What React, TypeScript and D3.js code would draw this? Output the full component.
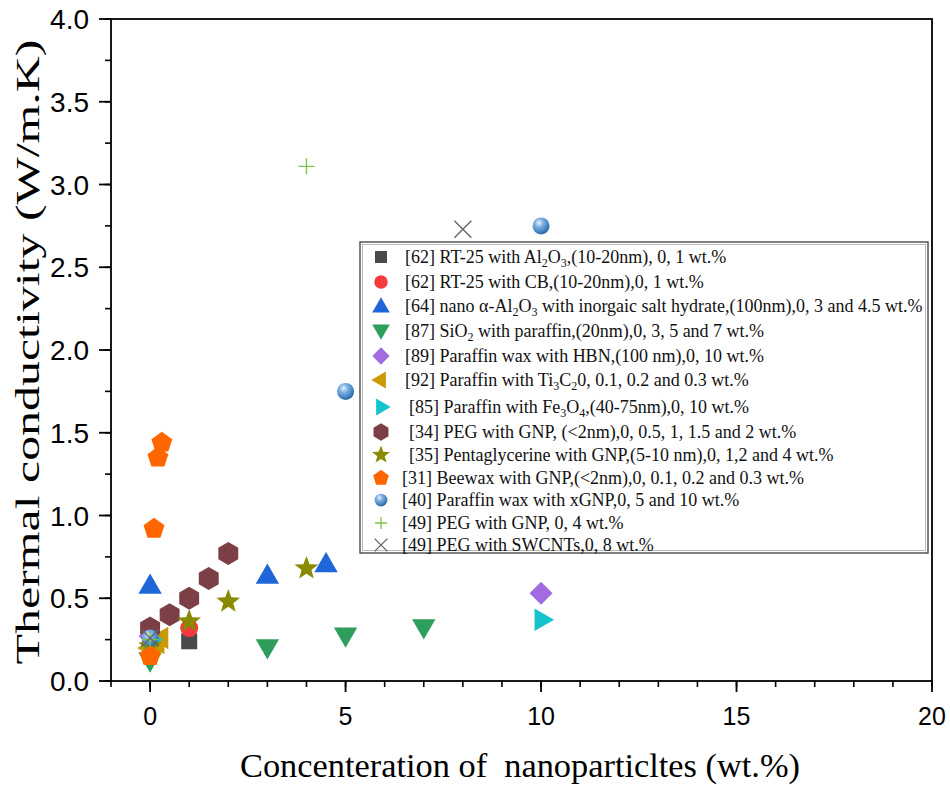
import React from "react";
import * as d3 from "d3";

// ---------- data ----------
const s1x = [0, 1];
const s1y = [0.21, 0.24];
const s2x = [0, 1];
const s2y = [0.22, 0.32];
const s3x = [0, 3, 4.5];
const s3y = [0.58, 0.64, 0.71];
const s4x = [0, 3, 5, 7];
const s4y = [0.12, 0.2, 0.27, 0.32];
const s5x = [0, 10];
const s5y = [0.27, 0.53];
const s6x = [0, 0.1, 0.2, 0.3];
const s6y = [0.2, 0.22, 0.23, 0.26];
const s7x = [0, 10];
const s7y = [0.25, 0.37];
const s8x = [0, 0.5, 1, 1.5, 2];
const s8y = [0.32, 0.4, 0.5, 0.62, 0.77];
const s9x = [0, 1, 2, 4];
const s9y = [0.21, 0.36, 0.48, 0.68];
const s10x = [0, 0.1, 0.2, 0.3];
const s10y = [0.15, 0.92, 1.35, 1.44];
const s11x = [0, 5, 10];
const s11y = [0.26, 1.75, 2.75];
const s12x = [0, 4];
const s12y = [0.25, 3.11];
const s13x = [0, 8];
const s13y = [0.26, 2.73];

const xTicks = [0, 5, 10, 15, 20];
const yTicks = [0, 0.5, 1, 1.5, 2, 2.5, 3, 3.5, 4];

type Part = { t: string; sub?: boolean };
const labels: Part[][] = [
  [{ t: "[62] RT-25 with Al" }, { t: "2", sub: true }, { t: "O" }, { t: "3", sub: true }, { t: ",(10-20nm), 0, 1 wt.%" }],
  [{ t: "[62] RT-25 with CB,(10-20nm),0, 1 wt.%" }],
  [{ t: "[64] nano \u03B1-Al" }, { t: "2", sub: true }, { t: "O" }, { t: "3", sub: true }, { t: " with inorgaic salt hydrate,(100nm),0, 3 and 4.5 wt.%" }],
  [{ t: "[87] SiO" }, { t: "2", sub: true }, { t: " with paraffin,(20nm),0, 3, 5 and 7 wt.%" }],
  [{ t: "[89] Paraffin wax with HBN,(100 nm),0, 10 wt.%" }],
  [{ t: "[92] Paraffin with Ti" }, { t: "3", sub: true }, { t: "C" }, { t: "2", sub: true }, { t: "0, 0.1, 0.2 and 0.3 wt.%" }],
  [{ t: "[85] Paraffin with Fe" }, { t: "3", sub: true }, { t: "O" }, { t: "4", sub: true }, { t: ",(40-75nm),0, 10 wt.%" }],
  [{ t: "[34] PEG with GNP, (<2nm),0, 0.5, 1, 1.5 and 2 wt.%" }],
  [{ t: "[35] Pentaglycerine with GNP,(5-10 nm),0, 1,2 and 4 wt.%" }],
  [{ t: "[31] Beewax with GNP,(<2nm),0, 0.1, 0.2 and 0.3 wt.%" }],
  [{ t: "[40] Paraffin wax with xGNP,0, 5 and 10 wt.%" }],
  [{ t: "[49] PEG with GNP, 0, 4 wt.%" }],
  [{ t: "[49] PEG with SWCNTs,0, 8 wt.%" }],
];

type Mk = "square" | "circle" | "tri" | "tridown" | "diamond" | "trileft" | "triright" | "hex" | "star" | "pent" | "sphere" | "plus" | "x";

const series = [
  { xs: s1x, ys: s1y, mk: "square" as Mk, color: "#4a4a4a" },
  { xs: s2x, ys: s2y, mk: "circle" as Mk, color: "#f23a3f" },
  { xs: s3x, ys: s3y, mk: "tri" as Mk, color: "#1f66d8" },
  { xs: s4x, ys: s4y, mk: "tridown" as Mk, color: "#2e9e5c" },
  { xs: s5x, ys: s5y, mk: "diamond" as Mk, color: "#a46be0" },
  { xs: s6x, ys: s6y, mk: "trileft" as Mk, color: "#c99a06" },
  { xs: s7x, ys: s7y, mk: "triright" as Mk, color: "#14c3cb" },
  { xs: s8x, ys: s8y, mk: "hex" as Mk, color: "#7b3f45" },
  { xs: s9x, ys: s9y, mk: "star" as Mk, color: "#8a8a00" },
  { xs: s10x, ys: s10y, mk: "pent" as Mk, color: "#ff6600" },
  { xs: s11x, ys: s11y, mk: "sphere" as Mk, color: "#5b9bd5" },
  { xs: s12x, ys: s12y, mk: "plus" as Mk, color: "#7cc443" },
  { xs: s13x, ys: s13y, mk: "x" as Mk, color: "#666666" },
];

// ---------- layout ----------
const W = 950, H = 785;
const L = 111, R = 932, T = 19, B = 681;
const x = d3.scaleLinear().domain([-1, 20]).range([L, R]);
const y = d3.scaleLinear().domain([0, 4]).range([B, T]);

function poly(n: number, r: number, rot: number) {
  const pts = d3.range(n).map((i) => {
    const a = rot + (i * 2 * Math.PI) / n;
    return [r * Math.cos(a), r * Math.sin(a)];
  });
  return "M" + pts.map((p) => p[0].toFixed(2) + "," + p[1].toFixed(2)).join("L") + "Z";
}
function star(ro: number, ri: number) {
  const pts = d3.range(10).map((i) => {
    const a = -Math.PI / 2 + (i * Math.PI) / 5;
    const r = i % 2 === 0 ? ro : ri;
    return [r * Math.cos(a), r * Math.sin(a)];
  });
  return "M" + pts.map((p) => p[0].toFixed(2) + "," + p[1].toFixed(2)).join("L") + "Z";
}

function Marker({ mk, color, cx, cy, s }: { mk: Mk; color: string; cx: number; cy: number; s: number }) {
  const tr = `translate(${cx},${cy})`;
  switch (mk) {
    case "square":
      return <rect x={cx - 8 * s} y={cy - 8 * s} width={16 * s} height={16 * s} fill={color} />;
    case "circle":
      return <circle cx={cx} cy={cy} r={9 * s} fill={color} />;
    case "tri":
      return <path transform={`translate(${cx},${cy + 2 * s})`} d={poly(3, 13.5 * s, -Math.PI / 2)} fill={color} />;
    case "tridown":
      return <path transform={`translate(${cx},${cy - 2 * s})`} d={poly(3, 13.5 * s, Math.PI / 2)} fill={color} />;
    case "trileft":
      return <path transform={tr} d={poly(3, 13 * s, Math.PI)} fill={color} />;
    case "triright":
      return <path transform={tr} d={poly(3, 13 * s, 0)} fill={color} />;
    case "diamond":
      return <path transform={tr} d={poly(4, 11.5 * s, 0)} fill={color} />;
    case "hex":
      return <path transform={tr} d={poly(6, 11.5 * s, Math.PI / 2)} fill={color} />;
    case "star":
      return <path transform={tr} d={star(12.5 * s, 5.2 * s)} fill={color} />;
    case "pent":
      return <path transform={tr} d={poly(5, 11 * s, -Math.PI / 2)} fill={color} />;
    case "sphere":
      return <circle cx={cx} cy={cy} r={8.5 * s} fill="url(#sph)" />;
    case "plus":
      return (
        <path transform={tr} d={`M${-8 * s},0H${8 * s}M0,${-8 * s}V${8 * s}`} stroke={color} strokeWidth={1.3} fill="none" />
      );
    case "x":
      return (
        <path transform={tr} d={`M${-8.5 * s},${-8.5 * s}L${8.5 * s},${8.5 * s}M${-8.5 * s},${8.5 * s}L${8.5 * s},${-8.5 * s}`} stroke={color} strokeWidth={1.4} fill="none" />
      );
  }
  return null;
}

const legendRowY = [257, 282, 306, 331, 356, 380, 407, 432, 455, 478, 500, 523, 545];
const legendTextX = [405, 405, 405, 405, 405, 405, 409, 409, 409, 402, 402, 402, 402];

export default function App() {
  const minorX = d3.range(-1, 20.001, 1);
  const minorY = d3.range(0, 4.001, 0.25);
  const serif = "'Liberation Serif', 'Times New Roman', serif";
  const sans = "'Liberation Sans', Arial, sans-serif";
  return (
    <svg width={W} height={H} style={{ position: "absolute", left: 0, top: 0, background: "#fff" }}>
      <defs>
        <radialGradient id="sph" cx="0.38" cy="0.32" r="0.7">
          <stop offset="0" stopColor="#e8f2fb" />
          <stop offset="0.35" stopColor="#7fb2e2" />
          <stop offset="0.8" stopColor="#3f7fc0" />
          <stop offset="1" stopColor="#2c63a0" />
        </radialGradient>
      </defs>
      <rect width={W} height={H} fill="#fff" />
      {/* frame */}
      <rect x={L} y={T} width={R - L} height={B - T} fill="none" stroke="#000" strokeWidth={1.8} />
      {/* x ticks */}
      {minorX.map((v) => (
        <line key={"mx" + v} x1={x(v)} x2={x(v)} y1={B} y2={B + 6} stroke="#000" strokeWidth={1.6} />
      ))}
      {xTicks.map((v) => (
        <g key={"x" + v}>
          <line x1={x(v)} x2={x(v)} y1={B} y2={B + 11} stroke="#000" strokeWidth={1.8} />
          <text x={x(v)} y={725} textAnchor="middle" fontFamily={sans} fontSize={25}>
            {v}
          </text>
        </g>
      ))}
      {/* y ticks */}
      {minorY.map((v) => (
        <line key={"my" + v} x1={L - 6} x2={L} y1={y(v)} y2={y(v)} stroke="#000" strokeWidth={1.6} />
      ))}
      {yTicks.map((v) => (
        <g key={"y" + v}>
          <line x1={L - 12} x2={L} y1={y(v)} y2={y(v)} stroke="#000" strokeWidth={1.8} />
          <text x={89} y={y(v) + 10} textAnchor="end" fontFamily={sans} fontSize={28}>
            {v.toFixed(1)}
          </text>
        </g>
      ))}
      {/* axis titles */}
      <text x={520} y={777} textAnchor="middle" fontFamily={serif} fontSize={34} textLength={560} lengthAdjust="spacingAndGlyphs" style={{ whiteSpace: "pre" }}>
        {"Concenteration of  nanoparticltes (wt.%)"}
      </text>
      <text
        transform={`translate(39,352) rotate(-90)`}
        textAnchor="middle"
        fontFamily={serif}
        fontSize={34}
        textLength={625}
        lengthAdjust="spacingAndGlyphs"
      >
        Thermal conductivity (W/m.K)
      </text>
      {/* data */}
      {series.map((s, i) => (
        <g key={"s" + i}>
          {s.xs.map((xv, j) => (
            <Marker key={j} mk={s.mk} color={s.color} cx={x(xv)} cy={y(s.ys[j])} s={1} />
          ))}
        </g>
      ))}
      {/* legend */}
      <rect x={360} y={242} width={568} height={311} fill="#fff" stroke="#555" strokeWidth={1.5} />
      <rect x={362.5} y={244.5} width={563} height={306} fill="none" stroke="#aaa" strokeWidth={0.8} />
      {series.map((s, i) => (
        <g key={"lg" + i}>
          <Marker mk={s.mk} color={s.color} cx={381} cy={legendRowY[i]} s={0.75} />
          <text x={legendTextX[i]} y={legendRowY[i] + 6} fontFamily={serif} fontSize={18} fill="#111">
            {labels[i].map((p, k) =>
              p.sub ? (
                <tspan key={k} fontSize={12} dy={4}>
                  {p.t}
                </tspan>
              ) : (
                <tspan key={k} dy={k > 0 && labels[i][k - 1].sub ? -4 : 0}>
                  {p.t}
                </tspan>
              )
            )}
          </text>
        </g>
      ))}
    </svg>
  );
}
